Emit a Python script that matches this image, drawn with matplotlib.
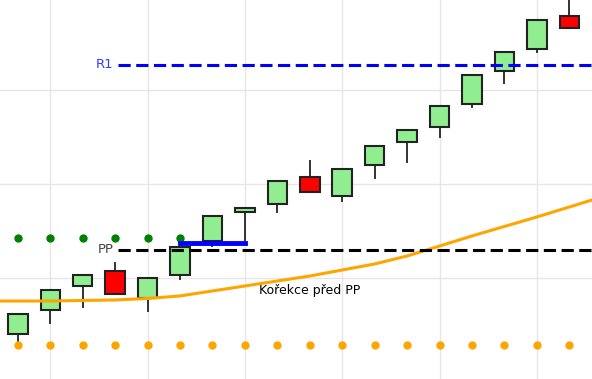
import matplotlib
matplotlib.use('Agg')
import matplotlib.pyplot as plt
from matplotlib.patches import Rectangle

# candle data
opens = [4.04, 6.60, 9.15, 10.74, 7.87, 10.32, 13.94, 17.02, 17.87, 20.74,
         18.72, 22.02, 24.47, 26.06, 28.51, 32.02, 34.36, 37.87]
closes = [6.17, 8.72, 10.32, 8.30, 10.00, 13.30, 16.60, 17.45, 20.32, 19.15,
          21.60, 24.04, 25.74, 28.30, 31.60, 34.04, 37.45, 36.60]
highs = [6.17, 8.72, 10.32, 11.60, 10.00, 13.30, 16.60, 17.45, 20.32, 22.45,
         21.60, 24.04, 25.74, 28.30, 31.60, 34.04, 37.45, 40.11]
lows = [3.19, 5.21, 6.91, 8.30, 6.49, 9.89, 13.40, 14.04, 17.02, 19.15,
        18.19, 20.64, 22.34, 25.00, 28.19, 30.74, 34.04, 36.60]

# moving average, index -1 .. 18
ma_x = list(range(-1, 19))
ma_y = [7.55, 7.55, 7.55, 7.61, 7.66, 7.82, 8.09, 8.62, 9.15, 9.68,
        10.21, 10.85, 11.49, 12.34, 13.40, 14.47, 15.48, 16.49, 17.55, 18.62]

r1 = 32.66
pp = 12.98
green_dots = 14.26
orange_dots = 2.87
blue_level = 13.72
blue_span = (5, 7)
note = "Kořekce před PP"
note_pos = (9, 8.62)

fig = plt.figure(figsize=(5.92, 3.79), dpi=100)
ax = fig.add_axes([0, 0, 1, 1])

n = len(opens)
for i in range(n):
    o, c, h, l = opens[i], closes[i], highs[i], lows[i]
    color = '#90ee90' if c >= o else '#ff0000'
    ax.plot([i, i], [l, h], color='#333333', lw=1.4, zorder=2)
    ax.add_patch(Rectangle((i - 0.3, min(o, c)), 0.6, abs(c - o),
                           facecolor=color, edgecolor='#222222', lw=1.5, zorder=3))

ax.plot(ma_x, ma_y, color='orange', lw=2.2, zorder=4)

ax.plot(range(n), [orange_dots] * n, 'o', color='orange', ms=5, zorder=4)
ax.plot(range(6), [green_dots] * 6, 'o', color='green', ms=5, zorder=4)

ax.plot([3.1, 18], [r1, r1], color='blue', lw=2.2, dashes=(4, 1.8), zorder=5)
ax.plot([3.1, 18], [pp, pp], color='black', lw=2.2, dashes=(4, 1.8), zorder=5)
ax.plot(blue_span, [blue_level, blue_level], color='blue', lw=3.5, zorder=5)

ax.text(2.95, r1, "R1", color='#3a3aff', fontsize=9.5, ha='right', va='center')
ax.text(2.95, pp, "PP", color='#444444', fontsize=9.5, ha='right', va='center')
ax.text(note_pos[0], note_pos[1], note, color='black', fontsize=9,
        ha='center', va='center', zorder=6)

ax.set_xlim(-0.55, 17.7)
ax.set_ylim(-0.745, 39.57)
ax.set_xticks([1, 4, 7, 10, 13, 16])
ax.set_yticks([10, 20, 30])
ax.grid(True, color='#e6e6e6', lw=1)
ax.set_axisbelow(True)
ax.tick_params(length=0, labelbottom=False, labelleft=False)
for s in ax.spines.values():
    s.set_visible(False)

fig.savefig('out.png', dpi=100)
